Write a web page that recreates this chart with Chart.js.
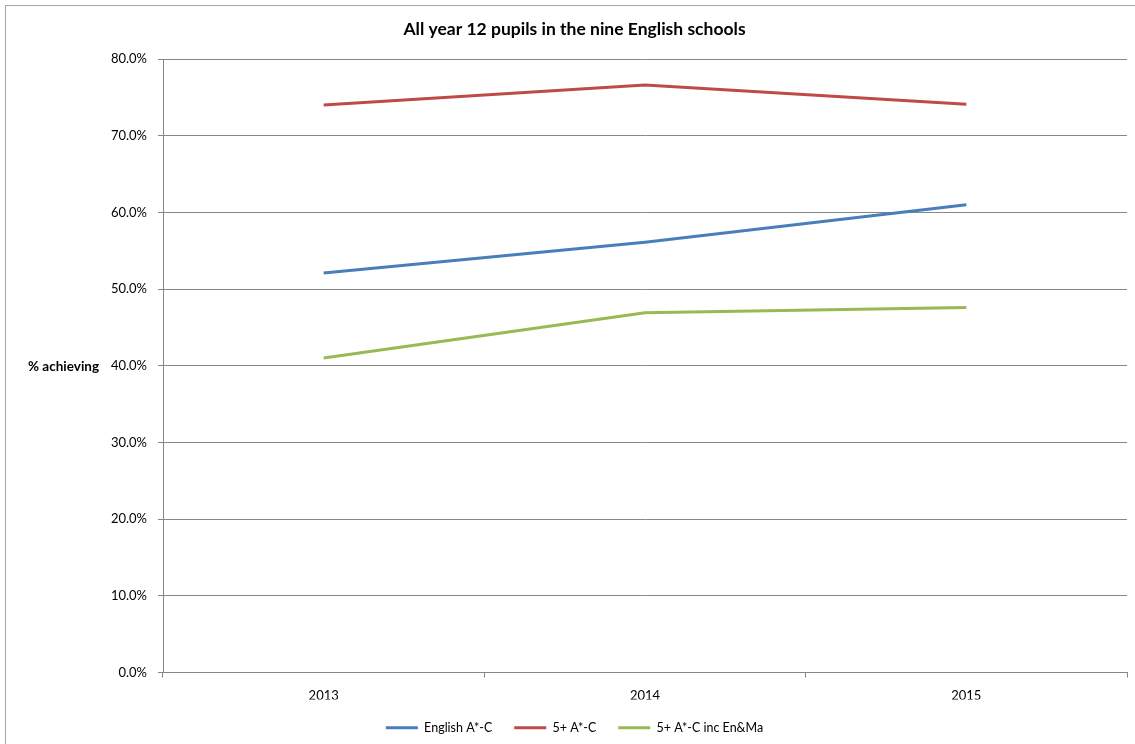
<!DOCTYPE html>
<html>
<head>
<meta charset="utf-8">
<title>All year 12 pupils in the nine English schools</title>
<script src="https://cdn.jsdelivr.net/npm/chart.js@4/dist/chart.umd.min.js"></script>
<style>
  html, body { margin: 0; padding: 0; background: #fff; }
  canvas { display: block; }
</style>
</head>
<body>
<canvas id="graph1" width="1135" height="744"></canvas>
<script>
var years = ['2013', '2014', '2015'];
var englishAC = [52.1, 56.1, 61.0];
var fivePlusAC = [74.0, 76.6, 74.1];
var fivePlusEnMa = [41.0, 46.9, 47.6];

var FONT = 'Lato, "Liberation Sans", sans-serif';

// outer frame and the horizontal y axis caption
var decor = {
    id: 'decor',
    beforeDraw: function (chart) {
        var c = chart.ctx;
        c.save();
        c.fillStyle = '#fff';
        c.fillRect(0, 0, chart.width, chart.height);
        c.strokeStyle = '#a6a6a6';
        c.lineWidth = 1;
        c.strokeRect(5.5, 5.5, chart.width + 10, chart.height + 10);
        c.restore();
    },
    afterDraw: function (chart) {
        var c = chart.ctx;
        c.save();
        c.font = 'bold 13.5px ' + FONT;
        c.fillStyle = '#000';
        c.textBaseline = 'middle';
        c.textAlign = 'left';
        c.fillText('% achieving', 28, chart.scales.y.getPixelForValue(40) + 1);
        c.restore();
    }
};

var data = {
    labels: years,
    datasets: [
        { label: 'English A*-C', data: englishAC, borderColor: '#4a7ebb', backgroundColor: '#4a7ebb' },
        { label: '5+ A*-C', data: fivePlusAC, borderColor: '#be4b48', backgroundColor: '#be4b48' },
        { label: '5+ A*-C inc En&Ma', data: fivePlusEnMa, borderColor: '#98b954', backgroundColor: '#98b954' }
    ]
};

data.datasets.forEach(function (ds) {
    ds.borderWidth = 3;
    ds.pointRadius = 0;
    ds.pointStyle = 'line';
    ds.tension = 0;
});

var config = {
    type: 'line',
    data: data,
    plugins: [decor],
    options: {
        responsive: false,
        animation: false,
        layout: { padding: { left: 22, right: 8, top: 0, bottom: 0 } },
        plugins: {
            title: {
                display: true,
                text: 'All year 12 pupils in the nine English schools',
                color: '#000',
                font: { family: FONT, size: 17.5, weight: 'bold' },
                padding: { top: 19, bottom: 19 }
            },
            legend: {
                position: 'bottom',
                labels: {
                    usePointStyle: true,
                    pointStyleWidth: 32,
                    color: '#000',
                    font: { family: FONT, size: 12.5 },
                    padding: 22
                }
            },
            tooltip: { enabled: false }
        },
        scales: {
            x: {
                offset: true,
                grid: { offset: true, drawOnChartArea: false, color: '#868686', tickLength: 5 },
                border: { color: '#868686' },
                ticks: { color: '#000', font: { family: FONT, size: 13 }, padding: 11 },
                afterFit: function (s) { s.height = 27; }
            },
            y: {
                min: 0,
                max: 80,
                grid: { color: '#868686', tickLength: 5 },
                border: { color: '#868686' },
                ticks: {
                    stepSize: 10,
                    color: '#000',
                    font: { family: FONT, size: 13 },
                    padding: 11,
                    callback: function (v) { return v.toFixed(1) + '%'; }
                },
                afterFit: function (s) { s.width = 141; }
            }
        }
    }
};

var graph1 = new Chart(document.getElementById('graph1').getContext('2d'), config);
</script>
</body>
</html>
